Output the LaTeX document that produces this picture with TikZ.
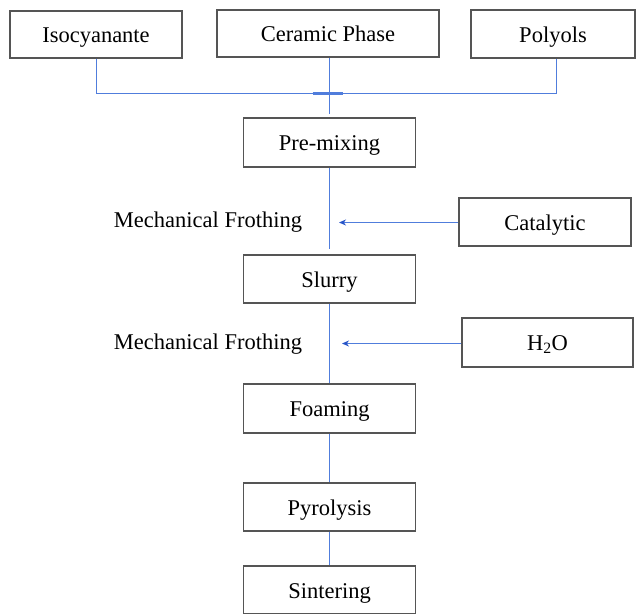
\documentclass[tikz,border=0pt]{standalone}
\usepackage{fontspec}
\setmainfont{Liberation Serif}
\usetikzlibrary{arrows.meta}
\definecolor{lineblue}{RGB}{80,125,220}
\definecolor{tipblue}{RGB}{40,85,200}
\definecolor{boxgray}{RGB}{85,85,85}
\tikzset{
  stepbox/.style={draw=boxgray, line width=1.3pt, fill=white, rectangle, inner sep=0pt,
    minimum width=172pt, minimum height=48pt, text height=18pt, text depth=2pt,
    font=\fontsize{22.5}{27}\selectfont},
  lbl/.style={inner sep=0pt, text height=18pt, text depth=2pt, font=\fontsize{22.5}{27}\selectfont},
  conn/.style={draw=lineblue, line width=1.4pt},
  feed/.style={draw=lineblue, line width=1.3pt, -{Stealth[length=7pt,width=6pt,color=tipblue]}}
}
\begin{document}
\begin{tikzpicture}[x=1pt,y=-1pt]
\useasboundingbox (0,0) rectangle (636,613);
\clip (0,0) rectangle (636,613);
% top row
\node[stepbox, minimum width=172pt, minimum height=47pt] (iso) at (96,34.5) {Isocyanante};
\node[stepbox, minimum width=222pt, minimum height=47pt] (cer) at (328,33.5) {Ceramic Phase};
\node[stepbox, minimum width=164pt, minimum height=48pt] (pol) at (553,34) {Polyols};
% main column
\node[stepbox, minimum height=49pt] (pre) at (329.5,142.5) {Pre-mixing};
\node[stepbox] (slu) at (329.5,279) {Slurry};
\node[stepbox, minimum height=49pt] (foa) at (329.5,408.5) {Foaming};
\node[stepbox] (pyr) at (329.5,507) {Pyrolysis};
\node[stepbox] (sin) at (329.5,590) {Sintering};
% side inputs
\node[stepbox, minimum height=48pt] (cat) at (545,222) {Catalytic};
\node[stepbox, minimum width=171pt, minimum height=49pt] (hwo) at (547.5,342.5) {H\textsubscript{2}O};
% labels
\node[lbl] (mf1) at (208,219) {Mechanical Frothing};
\node[lbl] (mf2) at (208,341) {Mechanical Frothing};
% junction
\coordinate (j1) at (96.5,93.5);
\coordinate (j2) at (556.5,93.5);
\coordinate (jc) at (329.5,93.5);
\draw[conn] (iso.south -| j1) -- (j1) -- (j2) -- (j2 |- pol.south);
\draw[draw=lineblue, line width=2.2pt] ([xshift=-17pt]jc) -- ([xshift=13pt]jc);
\draw[conn] (cer.south -| jc) -- ([yshift=3pt]pre.north);
\draw[conn, shorten >=5pt] (pre.south) -- (slu.north);
\draw[conn] (slu.south) -- (foa.north);
\draw[conn] (foa.south) -- (pyr.north);
\draw[conn] (pyr.south) -- (sin.north);
% feed arrows
\coordinate (t1) at (339,222.5);
\coordinate (t2) at (342,343.5);
\draw[feed] (cat.west |- t1) -- (t1);
\draw[feed] (hwo.west |- t2) -- (t2);
\end{tikzpicture}
\end{document}
